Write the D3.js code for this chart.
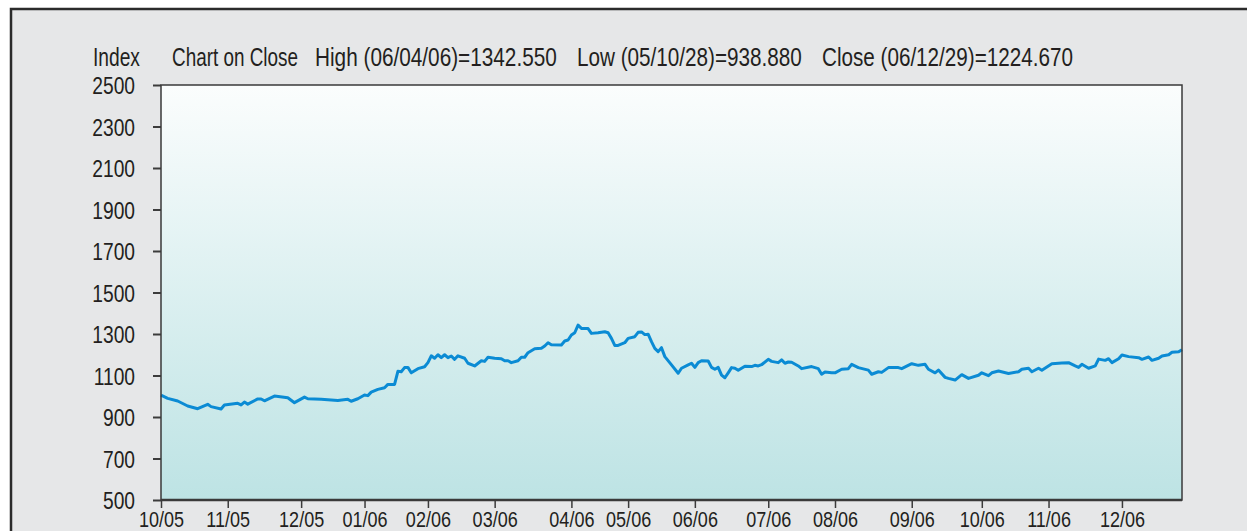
<!DOCTYPE html>
<html>
<head>
<meta charset="utf-8">
<script src="https://cdn.jsdelivr.net/npm/d3@7"></script>
<style>
  body { margin: 0; background: #ffffff; overflow: hidden; }
  text { font-family: "Liberation Sans", Arial, sans-serif; fill: #231f20; }
</style>
</head>
<body>
<div id="container"></div>
<script>
/* DATA */
// x labels and the trading-day index where each month starts
const monthLabels = ["10/05", "11/05", "12/05", "01/06", "02/06", "03/06", "04/06", "05/06",
                     "06/06", "07/06", "08/06", "09/06", "10/06", "11/06", "12/06"];
const monthStartDays = [0, 20, 42, 61, 80, 100, 123, 140, 160, 182, 202, 225, 246, 266, 288];
const lastDay = 306;

const yTicks = [500, 700, 900, 1100, 1300, 1500, 1700, 1900, 2100, 2300, 2500];

// [trading day, close]
const closeSeries = [
  [0,1005],[2,990],[5,977],[8,953],[11,940],[14,961],[15,950],[18,938.88],[19,958],
  [23,966],[24,958],[25,972],[26,962],[29,987],[30,987],[31,978],[34,1001],[38,993],
  [40,969],[43,996],[44,988],[48,985],[53,980],[56,985],[57,976],[59,988],
  [61,1006],[62,1003],[63,1020],[65,1033],[67,1041],[68,1057],[70,1057],[71,1120],
  [72,1118],[73,1138],[74,1139],[75,1113],[77,1133],[79,1142],
  [80,1162],[81,1195],[82,1183],[83,1200],[84,1186],[85,1200],[86,1186],[87,1194],
  [88,1178],[89,1195],[91,1183],[92,1159],[94,1146],[96,1171],[97,1168],[98,1188],
  [100,1183],[102,1181],[103,1171],[104,1171],[105,1162],[107,1171],[108,1188],[109,1188],
  [110,1210],[112,1229],[114,1231],[115,1242],[116,1258],[117,1248],[120,1247],[121,1266],
  [122,1271],[123,1295],[124,1306],[125,1342.55],[126,1327],[128,1326],[129,1303],
  [131,1306],[133,1311],[134,1306],[135,1279],[136,1245],[137,1245],[139,1258],
  [140,1279],[142,1287],[143,1308],[144,1310],[145,1297],[146,1299],[147,1263],[148,1231],
  [149,1215],[150,1234],[151,1191],[153,1151],[155,1111],[156,1135],[158,1151],[159,1159],
  [160,1139],[161,1162],[162,1171],[164,1170],[165,1139],[166,1130],[167,1139],[168,1102],
  [169,1089],[170,1113],[171,1138],[172,1135],[173,1125],[175,1145],[177,1143],[178,1149],
  [179,1146],[180,1152],[182,1178],[183,1168],[185,1162],[186,1175],[187,1159],[188,1165],
  [189,1164],[191,1146],[192,1133],[195,1143],[197,1133],[198,1106],[199,1117],[201,1113],
  [202,1113],[204,1130],[206,1133],[207,1154],[209,1138],[212,1126],[213,1106],[215,1118],
  [216,1115],[218,1138],[221,1138],[222,1133],
  [225,1157],[227,1149],[229,1154],[230,1130],[232,1113],[233,1126],[235,1091],[236,1086],
  [238,1078],[240,1104],[242,1086],[245,1101],
  [246,1113],[248,1099],[249,1113],[251,1122],[254,1110],[257,1118],[258,1130],[260,1135],
  [261,1118],[263,1135],[264,1125],
  [267,1157],[270,1160],[272,1162],[274,1146],[275,1139],[276,1154],[278,1135],[280,1146],
  [281,1179],[283,1173],[284,1181],[285,1162],[287,1181],
  [288,1199],[290,1191],[293,1186],[294,1178],[296,1189],[297,1173],[299,1183],[300,1194],
  [302,1200],[303,1212],[305,1214],[306,1224.67]
];

const headerTexts = ["Index", "Chart on Close", "High (06/04/06)=1342.550",
                     "Low (05/10/28)=938.880", "Close (06/12/29)=1224.670"];

/* LAYOUT */
const width = 1247;
const height = 531;
const plot = { left: 161, right: 1182, top: 85, bottom: 500 };
// left edge and width of each header text
const headerX = [93, 172, 315, 577, 822];
const headerW = [47, 126, 242, 225, 251];

/* SCALES */
const xScale = d3.scaleLinear()
  .domain([0, lastDay])
  .range([plot.left, plot.right]);

const yScale = d3.scaleLinear()
  .domain([500, 2500])
  .range([plot.bottom, plot.top]);

/* SVG */
const svg = d3.select("#container")
  .append("svg")
  .attr("width", width)
  .attr("height", height);

const grad = svg.append("defs").append("linearGradient")
  .attr("id", "plotFill")
  .attr("x1", 0).attr("y1", 0).attr("x2", 0).attr("y2", 1);
grad.append("stop").attr("offset", "0%").attr("stop-color", "#fbfdfd");
grad.append("stop").attr("offset", "100%").attr("stop-color", "#bde3e4");

// outer panel
svg.append("rect")
  .attr("x", 11).attr("y", 9)
  .attr("width", width).attr("height", height)
  .attr("fill", "#e6e7e8")
  .attr("stroke", "#2b2b2b")
  .attr("stroke-width", 2.5);

// plot background
svg.append("rect")
  .attr("x", plot.left).attr("y", plot.top)
  .attr("width", plot.right - plot.left)
  .attr("height", plot.bottom - plot.top)
  .attr("fill", "url(#plotFill)");

// header: narrow type, so squeeze each text to its width in the picture
svg.selectAll(".header")
  .data(headerTexts)
  .join("text")
  .attr("class", "header")
  .style("font-size", "25px")
  .text(d => d)
  .attr("transform", function (d, i) {
    const k = headerW[i] / this.getComputedTextLength();
    return `translate(${headerX[i]}, 66) scale(${k}, 1)`;
  });

/* AXES */
const yAxis = d3.axisLeft(yScale)
  .tickValues(yTicks)
  .tickFormat(d3.format("d"))
  .tickSize(8)
  .tickPadding(0);

const yG = svg.append("g")
  .attr("transform", `translate(${plot.left}, 0)`)
  .call(yAxis);
yG.select(".domain").remove();
yG.selectAll(".tick line").attr("stroke", "#3c3c3c").attr("stroke-width", 2);
yG.selectAll(".tick text")
  .attr("x", 0)
  .attr("dy", "0.36em")
  .attr("transform", "translate(-26, 0) scale(0.8, 1)")
  .style("font-size", "24px")
  .style("fill", "#231f20");

const xAxis = d3.axisBottom(xScale)
  .tickValues(monthStartDays)
  .tickFormat((d, i) => monthLabels[i])
  .tickSize(8)
  .tickPadding(0);

const xG = svg.append("g")
  .attr("transform", `translate(0, ${plot.bottom})`)
  .call(xAxis);
xG.select(".domain").remove();
xG.selectAll(".tick line").attr("stroke", "#3c3c3c").attr("stroke-width", 1.5);
xG.selectAll(".tick text")
  .attr("y", 0)
  .attr("dy", 0)
  .attr("transform", "translate(0, 27) scale(0.82, 1)")
  .style("font-size", "22px")
  .style("fill", "#231f20");

/* LINE */
const line = d3.line()
  .x(d => xScale(d[0]))
  .y(d => yScale(d[1]));

svg.append("path")
  .datum(closeSeries)
  .attr("d", line)
  .attr("fill", "none")
  .attr("stroke", "#0b8bd4")
  .attr("stroke-width", 3)
  .attr("stroke-linejoin", "round");

// plot frame
svg.append("rect")
  .attr("x", plot.left).attr("y", plot.top)
  .attr("width", plot.right - plot.left)
  .attr("height", plot.bottom - plot.top)
  .attr("fill", "none")
  .attr("stroke", "#3a3a3a")
  .attr("stroke-width", 1.5);
svg.append("line")
  .attr("x1", plot.left).attr("x2", plot.right)
  .attr("y1", plot.bottom).attr("y2", plot.bottom)
  .attr("stroke", "#3a3a3a")
  .attr("stroke-width", 2.5);
</script>
</body>
</html>
